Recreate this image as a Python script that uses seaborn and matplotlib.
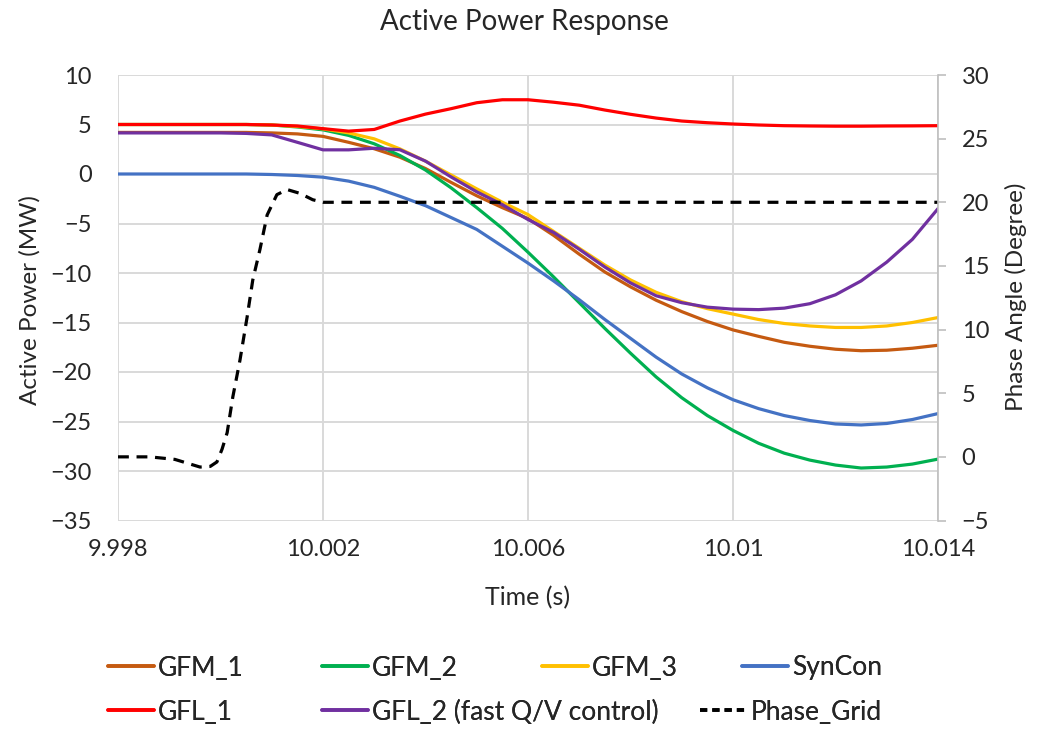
import numpy as np
import pandas as pd
import matplotlib
matplotlib.use("Agg")
import matplotlib.pyplot as plt
import seaborn as sns
from matplotlib.lines import Line2D

# ---------------- data ----------------
time_s = [9.998, 9.999, 10.000, 10.0005, 10.001, 10.0015, 10.002, 10.0025, 10.003,
          10.0035, 10.004, 10.0045, 10.005, 10.0055, 10.006, 10.0065, 10.007, 10.0075,
          10.008, 10.0085, 10.009, 10.0095, 10.010, 10.0105, 10.011, 10.0115, 10.012,
          10.0125, 10.013, 10.0135, 10.014]

gfm_1 = [4.2, 4.2, 4.2, 4.2, 4.15, 4.05, 3.8, 3.2, 2.55, 1.7, 0.55, -0.85, -2.2, -3.4,
         -4.5, -6.2, -8.1, -9.9, -11.4, -12.75, -13.9, -14.9, -15.75, -16.4, -17.0,
         -17.4, -17.7, -17.85, -17.8, -17.6, -17.3]
gfm_2 = [5.0, 5.0, 5.0, 5.0, 4.95, 4.75, 4.46, 3.9, 3.05, 1.87, 0.4, -1.4, -3.4, -5.5,
         -7.9, -10.4, -13.0, -15.6, -18.1, -20.5, -22.6, -24.4, -25.9, -27.2, -28.2,
         -28.9, -29.4, -29.7, -29.6, -29.3, -28.8]
gfm_3 = [5.0, 5.0, 5.0, 5.0, 4.95, 4.8, 4.56, 4.15, 3.55, 2.54, 1.3, -0.1, -1.5, -2.85,
         -4.1, -5.8, -7.5, -9.2, -10.7, -11.95, -12.9, -13.6, -14.15, -14.7, -15.1,
         -15.35, -15.5, -15.5, -15.35, -15.0, -14.5]
syncon = [0.0, 0.0, 0.0, 0.0, -0.05, -0.15, -0.32, -0.72, -1.35, -2.25, -3.2, -4.4,
          -5.6, -7.3, -9.0, -10.8, -12.7, -14.7, -16.6, -18.5, -20.2, -21.6, -22.8,
          -23.7, -24.4, -24.9, -25.25, -25.35, -25.2, -24.8, -24.2]
gfl_1 = [5.0, 5.0, 5.0, 5.0, 4.95, 4.85, 4.58, 4.33, 4.5, 5.35, 6.05, 6.6, 7.2, 7.5,
         7.5, 7.25, 6.95, 6.46, 6.03, 5.65, 5.35, 5.18, 5.05, 4.95, 4.88, 4.85, 4.83,
         4.83, 4.85, 4.86, 4.88]
gfl_2 = [4.15, 4.15, 4.15, 4.1, 3.95, 3.2, 2.44, 2.44, 2.6, 2.45, 1.3, -0.3, -1.8,
         -3.1, -4.6, -5.9, -7.6, -9.4, -11.0, -12.3, -13.0, -13.45, -13.65, -13.7,
         -13.55, -13.1, -12.2, -10.8, -8.9, -6.6, -3.5]

phase_t = [9.998, 9.99862, 9.99911, 9.9996, 9.9998, 9.99993, 10.00003, 10.00013,
           10.00024, 10.00038, 10.00052, 10.00063, 10.00077, 10.00091, 10.0011,
           10.0013, 10.00155, 10.0018, 10.002, 10.014]
phase_deg = [0.0, 0.0, -0.2, -0.8, -0.75, -0.4, 0.6, 1.9, 4.7, 7.6, 11.0, 13.9, 16.3,
             19.0, 20.6, 21.0, 20.7, 20.2, 20.0, 20.0]

series_names = ["GFM_1", "GFM_2", "GFM_3", "SynCon", "GFL_1", "GFL_2 (fast Q/V control)"]
series_vals = [gfm_1, gfm_2, gfm_3, syncon, gfl_1, gfl_2]
colors = ["#C55A11", "#00B050", "#FFC000", "#4472C4", "#FF0000", "#7030A0"]
phase_name = "Phase_Grid"

x_ticks = [9.998, 10.002, 10.006, 10.010, 10.014]
x_tick_labels = ["9.998", "10.002", "10.006", "10.01", "10.014"]
y_left_ticks = list(range(-35, 11, 5))
y_right_ticks = list(range(-5, 31, 5))

# ---------------- plotting ----------------
sns.set_theme(style="white")
plt.rcParams["font.family"] = ["Lato", "DejaVu Sans"]
TXT = "#262626"

W, H = 1038, 743
fig = plt.figure(figsize=(W / 100, H / 100), dpi=100)
ax = fig.add_axes([118 / W, 1 - 520.5 / H, 820 / W, 445.5 / H])

df = pd.DataFrame({
    "t": np.tile(time_s, len(series_names)),
    "P": np.concatenate(series_vals),
    "series": np.repeat(series_names, len(time_s)),
})
palette = dict(zip(series_names, colors))
sns.lineplot(data=df, x="t", y="P", hue="series", hue_order=series_names,
             palette=palette, linewidth=2.3, ax=ax, legend=False, estimator=None)

ax.set_xlim(9.998, 10.014)
ax.set_ylim(-35, 10)
ax.set_xticks(x_ticks)
ax.set_xticklabels(x_tick_labels)
ax.set_yticks(y_left_ticks)
ax.grid(True, color="#D9D9D9", linewidth=1.4)
ax.set_axisbelow(True)
for s in ax.spines.values():
    s.set_visible(False)
ax.tick_params(axis="both", length=0, labelsize=17, colors=TXT)
ax.tick_params(axis="y", pad=19)
ax.tick_params(axis="x", pad=13)
ax.set_xlabel("")
ax.set_ylabel("")

ax2 = ax.twinx()
sns.lineplot(x=phase_t, y=phase_deg, ax=ax2, color="black", linewidth=2.3,
             linestyle=(0, (3.4, 2.4)), estimator=None, sort=False)
ax2.set_ylim(-5, 30)
ax2.set_yticks(y_right_ticks)
ax2.grid(False)
for k, s in ax2.spines.items():
    s.set_visible(k == "right")
ax2.spines["right"].set_color("#BFBFBF")
ax2.spines["right"].set_linewidth(1.2)
ax2.tick_params(axis="y", length=6, width=1.2, color="#BFBFBF", labelsize=17,
                pad=11, labelcolor=TXT)

# texts
fig.text(524 / W, 1 - 22 / H, "Active Power Response", ha="center", va="center",
         fontsize=20, color=TXT)
fig.text(30 / W, 1 - 300 / H, "Active Power (MW)", ha="center", va="center",
         rotation=90, fontsize=17.5, color=TXT)
fig.text(1016 / W, 1 - 297 / H, "Phase Angle (Degree)", ha="center", va="center",
         rotation=90, fontsize=17.5, color=TXT)
fig.text(528 / W, 1 - 598 / H, "Time (s)", ha="center", va="center", fontsize=18,
         color=TXT)

# legend: one entry per position, like the Excel layout
entries = [
    (series_names[0], colors[0], "-", 108, 668),
    (series_names[1], colors[1], "-", 322, 668),
    (series_names[2], colors[2], "-", 542, 668),
    (series_names[3], colors[3], "-", 742, 668),
    (series_names[4], colors[4], "-", 108, 712),
    (series_names[5], colors[5], "-", 322, 712),
    (phase_name, "black", (0, (2.0, 1.4)), 700, 712),
]
for name, col, ls, px, py in entries:
    h = Line2D([], [], color=col, linestyle=ls, linewidth=2.6)
    leg = fig.legend([h], [name], loc="center left", bbox_to_anchor=(px / W, 1 - py / H),
                     frameon=False, fontsize=19, handlelength=1.75, handletextpad=0.15,
                     borderpad=0, borderaxespad=0, labelcolor=TXT)
    fig.add_artist(leg)

fig.savefig("out.png", dpi=100)
